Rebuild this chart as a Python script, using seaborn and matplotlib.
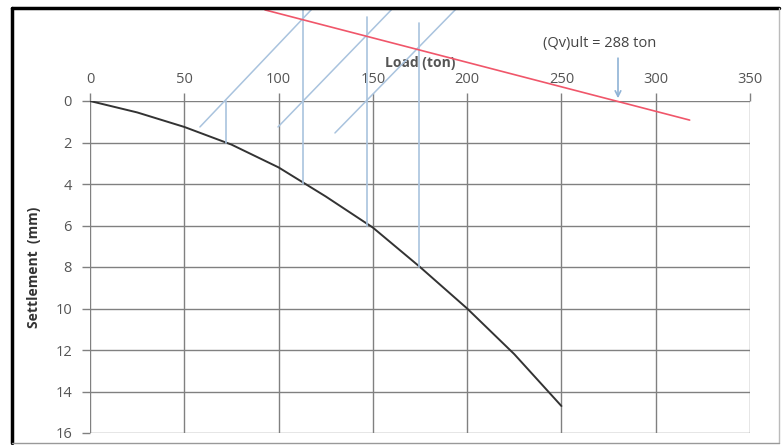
import matplotlib
matplotlib.use("Agg")
import matplotlib.pyplot as plt
import seaborn as sns
import pandas as pd
from matplotlib.lines import Line2D

# load-settlement curve
load = [0, 25, 50, 75, 100, 125, 150, 175, 200, 225, 250]
settlement = [0, 0.55, 1.25, 2.1, 3.2, 4.6, 6.1, 8.0, 10.0, 12.2, 14.7]

# construction lines (blue)
vert_x = [72, 113, 147, 174.5]
vert_top = [0, -4.4, -4.05, -3.76]
vert_bottom = [2, 4, 6, 8]
diag_x0 = [58.3, 99.7, 129.9]
diag_y0 = [1.25, 1.25, 1.54]
diag_x1 = [118.2, 160.7, 194.6]
diag_y1 = [-4.48, -4.48, -4.48]

# failure line (red) and ultimate load arrow
red_x = [92.8, 318]
red_y = [-4.39, 0.92]
qult_x = 280
qult_label = "(Qv)ult = 288 ton"

x_ticks = [0, 50, 100, 150, 200, 250, 300, 350]
y_ticks = [0, 2, 4, 6, 8, 10, 12, 14, 16]

sns.set_style("white")
plt.rcParams['font.family'] = ['Open Sans', 'DejaVu Sans']

fig = plt.figure(figsize=(7.82, 4.45), dpi=100)
ax = fig.add_axes([90 / 782, 12 / 445, 660 / 782, 332 / 445])

df = pd.DataFrame({'load': load, 'settlement': settlement})
sns.lineplot(data=df, x='load', y='settlement', ax=ax, color='#333333', lw=1.4)

blue = '#a9c3de'
for x, t, b in zip(vert_x, vert_top, vert_bottom):
    ax.plot([x, x], [t, b], color=blue, lw=1.2, clip_on=False)
for x0, y0, x1, y1 in zip(diag_x0, diag_y0, diag_x1, diag_y1):
    ax.plot([x0, x1], [y0, y1], color=blue, lw=1.1, clip_on=False)

ax.plot(red_x, red_y, color='#f0566a', lw=1.2, clip_on=False)
ax.annotate('', xy=(qult_x, 0), xytext=(qult_x, -2.2),
            arrowprops=dict(arrowstyle='->', color='#8fb3d6', lw=1.2),
            annotation_clip=False)
ax.text(qult_x - 10, -2.75, qult_label, fontsize=10.5, color='#444444',
        ha='center', va='center')

ax.set_xlim(0, 350)
ax.set_ylim(16, 0)
ax.set_xticks(x_ticks)
ax.set_yticks(y_ticks)
ax.xaxis.tick_top()
ax.xaxis.set_label_position('top')
ax.tick_params(axis='both', direction='out', length=6, width=1, color='#808080',
               labelsize=10.5, labelcolor='#555555', top=True, left=True,
               bottom=False, right=False)
ax.tick_params(axis='x', pad=4)
ax.tick_params(axis='y', pad=7)
ax.grid(True, color='#808080', lw=1)
for s in ax.spines.values():
    s.set_visible(False)
ax.set_xlabel('Load (ton)', fontsize=10, fontweight='bold', color='#555555',
              labelpad=4)
ax.set_ylabel('Settlement  (mm)', fontsize=10, fontweight='bold',
              color='#333333', labelpad=10)

# outer chart frame
fig.add_artist(Line2D([12 / 782, 12 / 782], [2 / 445, 437 / 445], color='black', lw=2.5))
fig.add_artist(Line2D([12 / 782, 779 / 782], [437 / 445, 437 / 445], color='black', lw=2.5))
fig.add_artist(Line2D([779 / 782, 779 / 782], [2 / 445, 437 / 445], color='#bbbbbb', lw=1))
fig.add_artist(Line2D([12 / 782, 779 / 782], [2 / 445, 2 / 445], color='#999999', lw=1))

fig.savefig('out.png', dpi=100)
